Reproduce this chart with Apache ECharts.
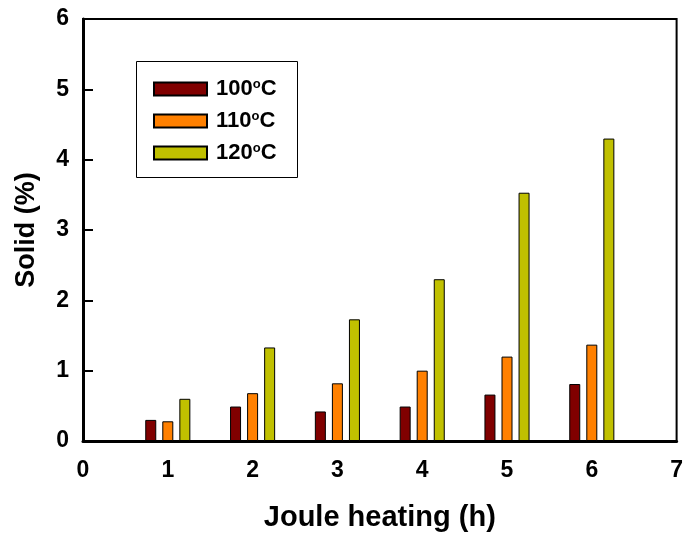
<!DOCTYPE html>
<html>
<head>
<meta charset="utf-8">
<script src="https://cdn.jsdelivr.net/npm/echarts@6/dist/echarts.min.js"></script>
<style>
  html, body { margin: 0; padding: 0; background: #fff; }
  #chart { width: 686px; height: 537px; }
</style>
</head>
<body>
<div id="chart"></div>
<script>
// Heating durations (h) and solid fraction (%) per temperature
const hours = [1, 2, 3, 4, 5, 6];
const seriesNames = ['100°C', '110°C', '120°C'];
const solid100 = [0.30, 0.49, 0.42, 0.49, 0.66, 0.81];
const solid110 = [0.28, 0.68, 0.82, 1.00, 1.20, 1.37];
const solid120 = [0.60, 1.33, 1.73, 2.30, 3.53, 4.30];
const barColors = ['#800000', '#FF8000', '#C0C000'];
const yTicks = [0, 1, 2, 3, 4, 5, 6];

const font = 'Arial, "Liberation Sans", sans-serif';
const values = [solid100, solid110, solid120];

const chart = echarts.init(document.getElementById('chart'), null, { renderer: 'canvas' });

const series = seriesNames.map((name, i) => ({
  name: name,
  type: 'bar',
  barWidth: 11,
  barGap: '55%',
  data: hours.map((h, k) => [h, values[i][k]]),
  itemStyle: { color: barColors[i], borderColor: '#000', borderWidth: 1 },
  emphasis: { disabled: true }
}));

chart.setOption({
  animation: false,
  backgroundColor: '#fff',
  grid: {
    left: 83, top: 19, right: 7, bottom: 94,
    show: true, borderColor: '#000', borderWidth: 2, backgroundColor: 'transparent'
  },
  xAxis: {
    type: 'value',
    min: 0, max: 7, interval: 1,
    name: 'Joule heating (h)',
    nameLocation: 'middle',
    nameGap: 62,
    nameTextStyle: { fontFamily: font, fontWeight: 'bold', fontSize: 29, color: '#000' },
    axisLine: { show: true, lineStyle: { color: '#000', width: 3 } },
    axisTick: { show: false },
    splitLine: { show: false },
    axisLabel: { margin: 18, fontFamily: font, fontWeight: 'bold', fontSize: 23, color: '#000' }
  },
  yAxis: {
    type: 'value',
    min: yTicks[0], max: yTicks[yTicks.length - 1], interval: 1,
    name: 'Solid (%)',
    nameLocation: 'middle',
    nameGap: 43,
    nameTextStyle: { fontFamily: font, fontWeight: 'bold', fontSize: 27, color: '#000' },
    axisLine: { show: true, lineStyle: { color: '#000', width: 3 } },
    axisTick: { show: true, inside: true, length: 10, lineStyle: { color: '#000', width: 2 } },
    splitLine: { show: false },
    axisLabel: { margin: 14, fontFamily: font, fontWeight: 'bold', fontSize: 23, color: '#000' }
  },
  legend: {
    orient: 'vertical',
    left: 148,
    top: 73,
    icon: 'rect',
    itemWidth: 53,
    itemHeight: 13,
    itemGap: 10,
    selectedMode: false,
    data: seriesNames,
    formatter: n => '{t|' + n.replace('°C', '') + '}{s|o}{t|C}',
    textStyle: {
      padding: [0, 0, 0, 4],
      rich: {
        t: { fontFamily: font, fontWeight: 'bold', fontSize: 22, color: '#000', lineHeight: 23 },
        s: { fontFamily: font, fontWeight: 'bold', fontSize: 13, color: '#000', lineHeight: 23, padding: [0, 0, 9, 0] }
      }
    }
  },
  graphic: [{
    type: 'rect',
    shape: { x: 136.5, y: 61.5, width: 161, height: 116 },
    style: { fill: 'none', stroke: '#000', lineWidth: 1 },
    silent: true
  }],
  series: series
});
</script>
</body>
</html>
